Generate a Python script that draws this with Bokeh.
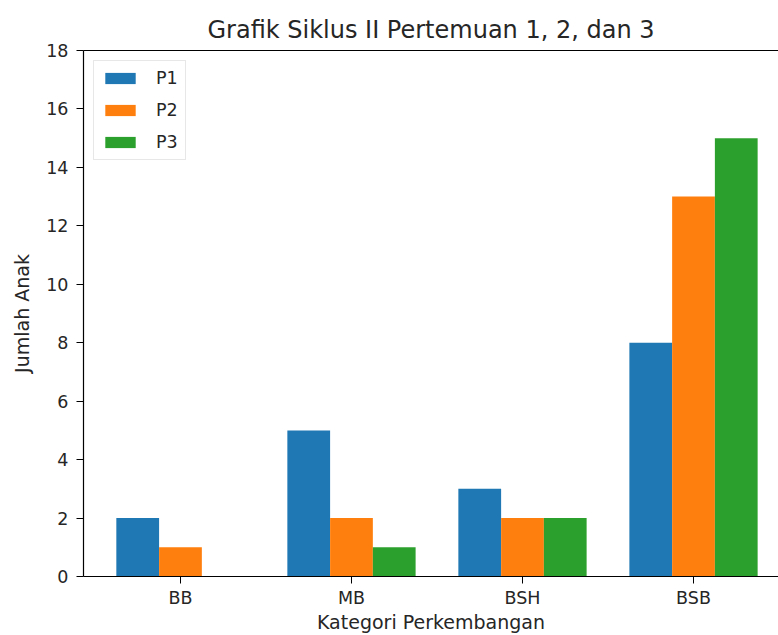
import numpy as np
from bokeh.plotting import figure
from bokeh.models import Range1d, FixedTicker, LinearAxis, ColumnDataSource, Legend, LegendItem
from bokeh.embed import file_html
from bokeh.resources import INLINE

categories = ["BB", "MB", "BSH", "BSB"]
p1 = [2, 5, 3, 8]
p2 = [1, 2, 2, 13]
p3 = [0, 1, 2, 15]
series_names = ["P1", "P2", "P3"]
colors = ["#1f77b4", "#ff7f0e", "#2ca02c"]
y_ticks = [0, 2, 4, 6, 8, 10, 12, 14, 16, 18]

FONT = "DejaVu Sans"
TXT = "#262626"
width = 0.25
x = np.arange(len(categories))

p = figure(width=778, height=635, output_backend="svg", toolbar_location=None,
           x_range=Range1d(-0.567, 3.497), y_range=Range1d(0, 18),
           min_border_left=83, min_border_top=50, min_border_bottom=59, min_border_right=0,
           title="Grafik Siklus II Pertemuan 1, 2, dan 3")
p.title.align = "center"
p.title.offset = 7
p.title.standoff = 14
p.title.text_font = FONT
p.title.text_font_size = "24px"
p.title.text_font_style = "normal"
p.title.text_color = TXT
p.outline_line_color = None
p.xgrid.visible = False
p.ygrid.visible = False
p.background_fill_color = "white"

renderers = []
for i, (vals, name, c) in enumerate(zip([p1, p2, p3], series_names, colors)):
    src = ColumnDataSource(dict(x=x + (i - 1) * width, top=vals))
    r = p.vbar(x="x", top="top", width=width, source=src, fill_color=c, line_color=None)
    renderers.append((name, r))

for ax in (p.xaxis[0], p.yaxis[0]):
    ax.axis_line_color = "black"
    ax.axis_line_width = 1.2
    ax.major_tick_line_color = "black"
    ax.major_tick_out = 7
    ax.major_tick_in = 0
    ax.minor_tick_line_color = None
    ax.major_label_text_font = FONT
    ax.major_label_text_font_size = "17.5px"
    ax.major_label_text_color = TXT
    ax.axis_label_text_font = FONT
    ax.axis_label_text_font_size = "19px"
    ax.axis_label_text_font_style = "normal"
    ax.axis_label_text_color = TXT

p.xaxis.ticker = FixedTicker(ticks=list(x))
p.xaxis.major_label_overrides = {int(i): c for i, c in zip(x, categories)}
p.xaxis.major_label_standoff = 4
p.xaxis.axis_label = "Kategori Perkembangan"
p.xaxis.axis_label_standoff = 0
p.yaxis.ticker = FixedTicker(ticks=y_ticks)
p.yaxis.major_label_standoff = 8
p.yaxis.axis_label = "Jumlah Anak"
p.yaxis.axis_label_standoff = 10

top = LinearAxis(major_label_text_font_size="0px", major_tick_out=0, major_tick_in=0,
                 minor_tick_line_color=None, axis_line_color="black", axis_line_width=1.2)
top.ticker = FixedTicker(ticks=[])
p.add_layout(top, "above")

legend = Legend(items=[LegendItem(label=n, renderers=[r]) for n, r in renderers],
                location="top_left", label_text_font=FONT, label_text_font_size="17.5px",
                label_text_color=TXT, glyph_width=38, glyph_height=14,
                label_height=18, spacing=12, padding=7, margin=10,
                border_line_color="#d0d0d0", background_fill_alpha=0.8, label_standoff=17)
p.add_layout(legend, "center")

open("out.html", "w").write(file_html(p, INLINE))
